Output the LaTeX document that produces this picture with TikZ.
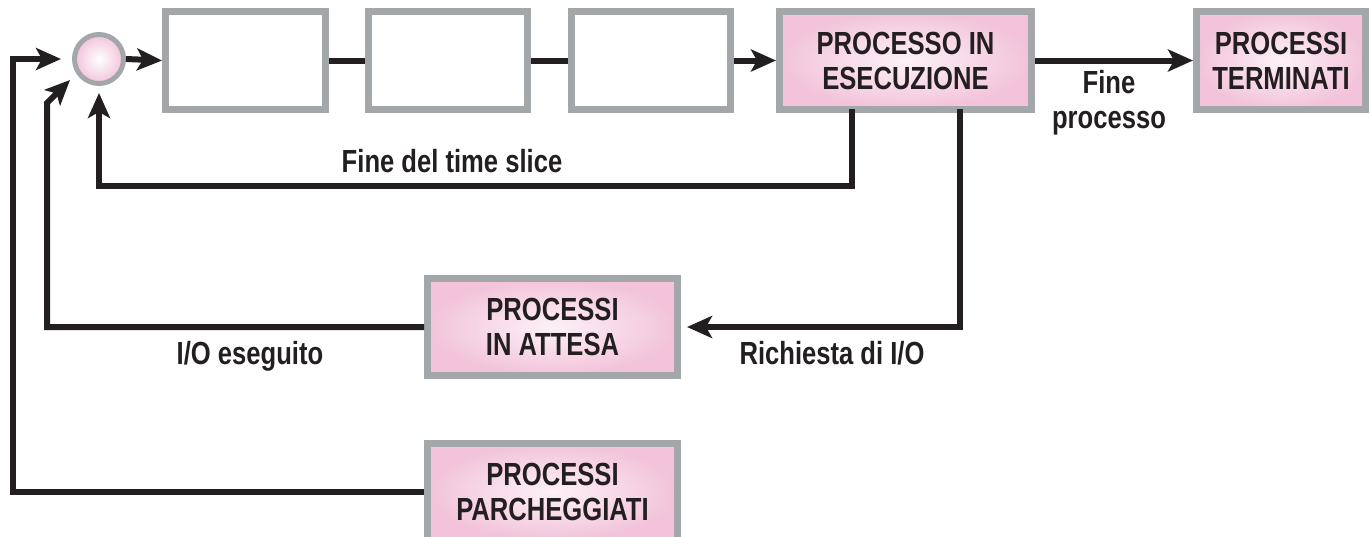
\documentclass[tikz,border=0pt]{standalone}
\usepackage{fontspec}
\setmainfont{Liberation Sans}[FakeStretch=0.8]
\usetikzlibrary{arrows.meta,calc,shadings}
\definecolor{boxgray}{HTML}{A3A7AA}
\definecolor{pinkedge}{HTML}{F2C3DA}
\definecolor{pinkmid}{HTML}{FDF1F7}
\definecolor{ink}{HTML}{231F20}
\begin{document}
\begin{tikzpicture}[x=0.5pt,y=-0.5pt,
  txt/.style={font=\bfseries\fontsize{16}{17.5}\selectfont, text=ink},
  pbox/.style={txt, draw=boxgray, line width=3.5pt, inner sep=0pt, align=center},
  emptybox/.style={pbox, fill=white},
  pinkbox/.style={pbox, shading=radial, inner color=pinkmid, outer color=pinkedge},
  conn/.style={draw=ink, line width=3pt},
  arr/.style={conn, -{Stealth[length=12.5pt,width=11pt,inset=3pt]}},
  lbl/.style={txt, inner sep=0pt, align=center}]
\useasboundingbox (0,0) rectangle (1370,536);
\clip (0,0) rectangle (1370,536);
% nodes
\node[draw=boxgray, line width=2.5pt, circle, minimum size=24.5pt, inner sep=0pt,
      shading=radial, inner color=white, outer color=pinkedge] (sum) at (99,59) {};
\node[emptybox, minimum width=80pt, minimum height=49pt] (b1) at (245.5,60.5) {};
\node[emptybox, minimum width=79.5pt, minimum height=49pt] (b2) at (448,60.5) {};
\node[emptybox, minimum width=79.5pt, minimum height=49pt] (b3) at (651,60.5) {};
\node[pinkbox, minimum width=126pt, minimum height=49pt] (b4) at (905.5,60.5) {PROCESSO IN\\ESECUZIONE};
\node[pinkbox, minimum width=84.5pt, minimum height=49pt] (b5) at (1281,60.5) {PROCESSI\\TERMINATI};
\node[pinkbox, minimum width=125pt, minimum height=48.5pt] (wait) at (552.5,327) {PROCESSI\\IN ATTESA};
\node[pinkbox, minimum width=125pt, minimum height=48.5pt] (park) at (552.5,492) {PROCESSI\\PARCHEGGIATI};
% helper coordinates
\coordinate (k1) at (13,59);
\coordinate (t1) at (61,59);
\coordinate (k2) at (47,103);
\coordinate (t2) at (70,80);
\coordinate (k3) at (99,186);
\coordinate (t3) at (99,93);
\coordinate (s1) at ($(b4.south)+(-53.5,-4)$);
\coordinate (s2) at ($(b4.south)+(54,-4)$);
\coordinate (t4) at ($(wait.east)+(6,0)$);
% connectors
\draw[arr] (sum.east) -- (b1.west);
\draw[conn] (b1.east) -- (b2.west);
\draw[conn] (b2.east) -- (b3.west);
\draw[arr] (b3.east) -- (b4.west);
\draw[arr] (b4.east) -- (b5.west);
\draw[arr] (s1) |- (k3) -- (t3);
\draw[arr] (s2) |- (t4);
\draw[arr] (wait.west) -| (k2) -- (t2);
\draw[arr] (park.west) -| (k1) -- (t1);
% labels
\node[lbl, anchor=base] (l1) at (452,172) {Fine del time slice};
\node[lbl] (l2) at (1109,103) {Fine\\processo};
\node[lbl, anchor=base] (l3) at (250,364) {I/O eseguito};
\node[lbl, anchor=base] (l4) at (832,364) {Richiesta di I/O};
\end{tikzpicture}
\end{document}
